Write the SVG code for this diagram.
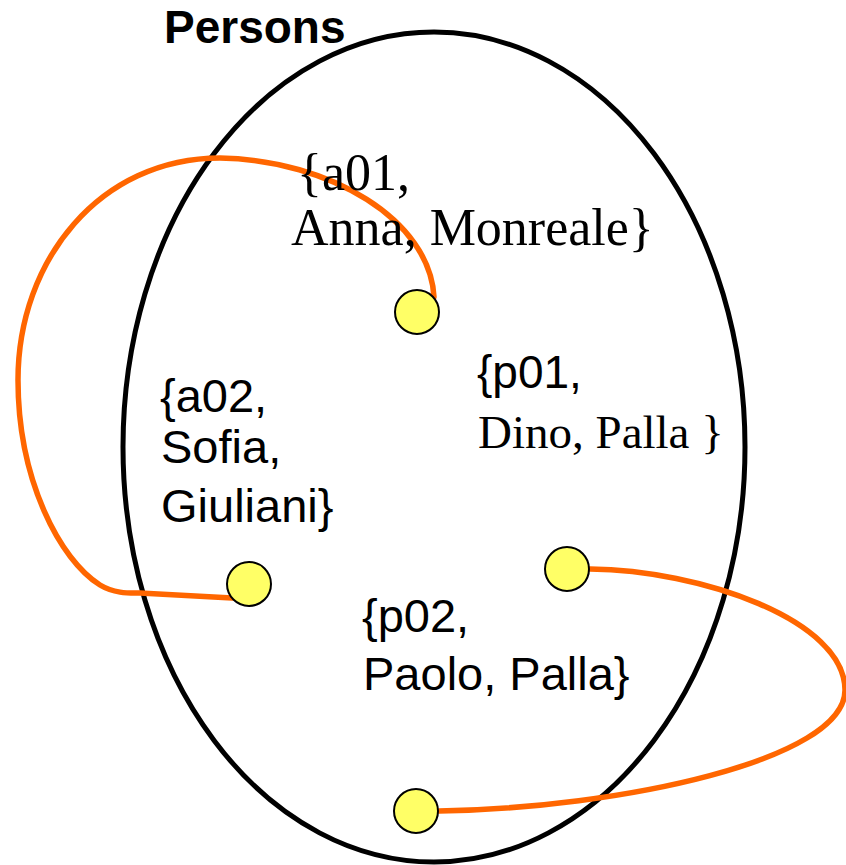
<svg xmlns="http://www.w3.org/2000/svg" width="846" height="865" viewBox="0 0 846 865">
<style>
.sans{font-family:"Liberation Sans",Arial,sans-serif;fill:#000}
.serif{font-family:"Liberation Serif","Times New Roman",serif;fill:#000}
.dot{fill:#FFFF66;stroke:#000;stroke-width:2}
.link{fill:none;stroke:#FF6600;stroke-width:5.5;stroke-linecap:round}
</style>
<rect width="846" height="865" fill="#fff"/>
<g id="persons">
<ellipse cx="434" cy="447" rx="311" ry="415" fill="none" stroke="#000" stroke-width="5"/>
<text class="sans" x="164" y="43" font-size="46" font-weight="bold">Persons</text>
</g>
<g id="connectors">
<path class="link" d="M434 297 C430 220 330 160 220 158 C100 158 18 260 18 380 C18 480 60 560 100 585 C115 594 130 593 140 593 L232 598"/>
<path class="link" d="M590 569 C700 570 845 620 845 690 C845 760 620 808 439 811"/>
</g>
<g id="a01">
<text class="serif" font-size="52"><tspan x="297" y="190">{a01,</tspan><tspan x="291" y="245">Anna, Monreale}</tspan></text>
<circle class="dot" cx="417" cy="312" r="22"/>
</g>
<g id="a02">
<text class="sans" font-size="47"><tspan x="160" y="412">{a02,</tspan><tspan x="161" y="463">Sofia,</tspan><tspan x="161" y="522">Giuliani}</tspan></text>
<circle class="dot" cx="249" cy="584" r="22"/>
</g>
<g id="p01">
<text font-size="46"><tspan class="sans" x="477" y="388">{p01,</tspan><tspan class="serif" font-size="47" x="478" y="448">Dino, Palla }</tspan></text>
<circle class="dot" cx="567" cy="569" r="22"/>
</g>
<g id="p02">
<text class="sans" font-size="47"><tspan x="362" y="632">{p02,</tspan><tspan x="363" y="690">Paolo, Palla}</tspan></text>
<circle class="dot" cx="416" cy="811" r="22"/>
</g>
</svg>
